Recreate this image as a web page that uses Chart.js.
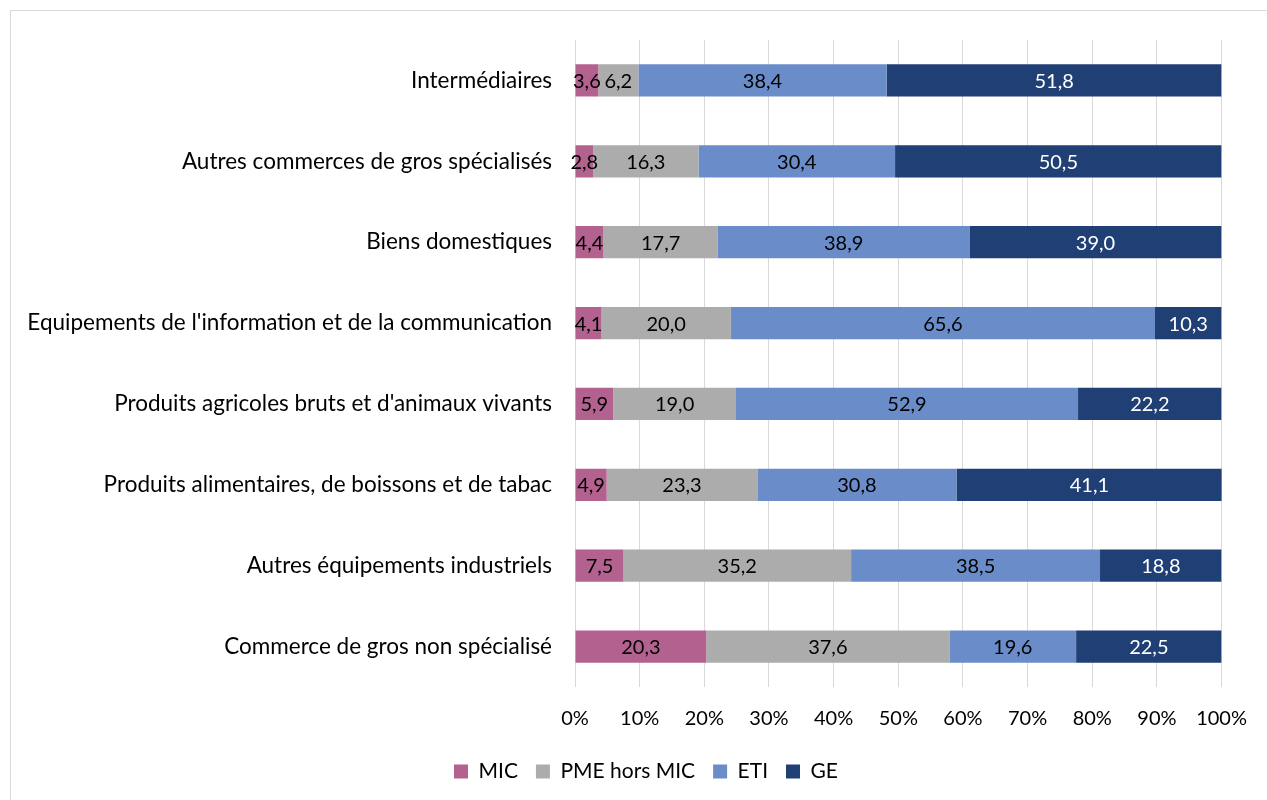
<!DOCTYPE html>
<html>
<head>
<meta charset="utf-8">
<script src="https://cdn.jsdelivr.net/npm/chart.js@4"></script>
<style>
  html, body { margin: 0; padding: 0; background: #fff; }
  #wrap { position: relative; width: 1267px; height: 800px; overflow: hidden; }
  #frame { position: absolute; left: 10px; top: 10px; width: 1300px; height: 820px; border: 1px solid #d9d9d9; box-sizing: border-box; }
  canvas { position: absolute; left: 0; top: 0; }
</style>
</head>
<body>
<div id="wrap">
  <div id="frame"></div>
  <canvas id="barChart" width="1267" height="800"></canvas>
</div>
<script>
// secteurs du commerce de gros, répartition par catégorie d'entreprise (%)
var categories = [
    "Intermédiaires",
    "Autres commerces de gros spécialisés",
    "Biens domestiques",
    "Equipements de l'information et de la communication",
    "Produits agricoles bruts et d'animaux vivants",
    "Produits alimentaires, de boissons et de tabac",
    "Autres équipements industriels",
    "Commerce de gros non spécialisé"
];
var mic = [3.6, 2.8, 4.4, 4.1, 5.9, 4.9, 7.5, 20.3];
var pme = [6.2, 16.3, 17.7, 20.0, 19.0, 23.3, 35.2, 37.6];
var eti = [38.4, 30.4, 38.9, 65.6, 52.9, 30.8, 38.5, 19.6];
var ge = [51.8, 50.5, 39.0, 10.3, 22.2, 41.1, 18.8, 22.5];
var seriesNames = ["MIC", "PME hors MIC", "ETI", "GE"];

var fontFamily = "Lato, 'Open Sans', sans-serif";

// étiquettes de valeur au centre de chaque segment
var valueLabels = {
    id: 'valueLabels',
    afterDatasetsDraw: function (chart) {
        var ctx = chart.ctx;
        ctx.save();
        ctx.font = "20px " + fontFamily;
        ctx.textAlign = 'center';
        ctx.textBaseline = 'middle';
        chart.data.datasets.forEach(function (ds, i) {
            var meta = chart.getDatasetMeta(i);
            meta.data.forEach(function (bar, j) {
                var cx = (bar.x + bar.base) / 2;
                ctx.fillStyle = i === 3 ? '#ffffff' : '#000000';
                ctx.fillText(ds.data[j].toFixed(1).replace('.', ','), cx, bar.y + 1);
            });
        });
        ctx.restore();
    }
};

// décale la légende un peu vers la droite
var legendShift = {
    id: 'legendShift',
    afterLayout: function (chart) {
        chart.legend.left += 25;
        chart.legend.right += 25;
    }
};

var ctx = document.getElementById('barChart').getContext('2d');
var chart = new Chart(ctx, {
    type: 'bar',
    data: {
        labels: categories,
        datasets: [
            { label: seriesNames[0], data: mic, backgroundColor: '#B3628F' },
            { label: seriesNames[1], data: pme, backgroundColor: '#ADACAC' },
            { label: seriesNames[2], data: eti, backgroundColor: '#6A8DCA' },
            { label: seriesNames[3], data: ge, backgroundColor: '#1F3F75' }
        ]
    },
    options: {
        indexAxis: 'y',
        responsive: false,
        animation: false,
        devicePixelRatio: 1,
        categoryPercentage: 1,
        barPercentage: 0.4,
        layout: { padding: { left: 20, right: 45, top: 40, bottom: 8 } },
        scales: {
            x: {
                stacked: true,
                min: 0,
                max: 100,
                border: { display: false },
                grid: { color: '#d9d9d9', lineWidth: 1, drawTicks: false },
                ticks: {
                    stepSize: 10,
                    padding: 20,
                    color: '#000',
                    font: { family: fontFamily, size: 20 },
                    callback: function (v) { return v + '%'; }
                },
                afterFit: function (scale) { scale.height -= 8; }
            },
            y: {
                stacked: true,
                border: { display: false },
                grid: { display: false },
                ticks: {
                    padding: 15,
                    color: '#000',
                    font: { family: fontFamily, size: 22.5 }
                },
                afterFit: function (scale) { scale.width = 555; }
            }
        },
        plugins: {
            legend: {
                position: 'bottom',
                labels: {
                    boxWidth: 14,
                    boxHeight: 14,
                    padding: 18,
                    color: '#000',
                    font: { family: fontFamily, size: 21 }
                }
            },
            tooltip: { enabled: false }
        }
    },
    plugins: [valueLabels, legendShift]
});
</script>
</body>
</html>
